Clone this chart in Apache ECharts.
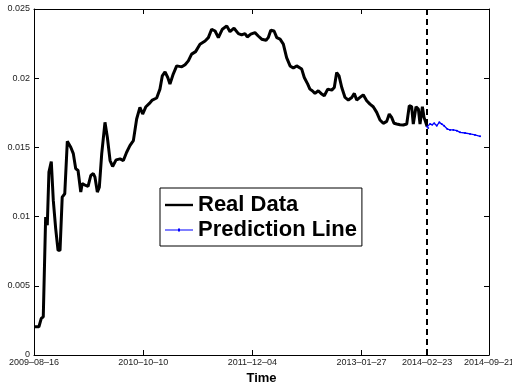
<!DOCTYPE html>
<html>
<head>
<meta charset="utf-8">
<title>b over time</title>
<script src="https://cdn.jsdelivr.net/npm/echarts@6/dist/echarts.min.js"></script>
<style>
  html, body { margin: 0; padding: 0; background: #fff; }
  #chart { width: 512px; height: 391px; }
</style>
</head>
<body>
<div id="chart"></div>
<script>
// Week index (from 2009-08-16) and observed value of b
const realWeek = [0,2.7,4.0,5.1,6.4,7.3,8.2,9.5,10.6,11.9,
  13.2,14.3,15.5,16.9,18.3,20.2,21.6,22.9,24.2,25.7,
  26.5,28.4,29.7,31.2,32.6,33.5,34.8,35.9,37.2,39.0,
  40.3,41.8,43.2,45.1,47.3,49.1,50.9,52.7,54.6,56.4,
  58.2,59.7,61.5,63.4,65.0,67.4,69.2,70.5,72.0,73.5,
  74.7,76.5,78.4,81.2,83.0,84.8,86.6,88.8,91.2,94.0,
  95.8,97.6,99.5,101.3,103.5,105.9,107.7,109.9,112.3,114.1,
  115.9,117.2,119.1,121.4,123.2,125.1,127.5,128.7,130.1,131.9,
  133.4,135.2,137.0,138.8,140.7,142.5,144.3,147.1,148.5,150.4,
  151.6,152.9,154.4,156.2,157.7,159.5,161.4,163.6,165.0,166.3,
  167.6,169.1,170.9,172.7,174.6,176.0,177.3,179.1,180.9,182.8,
  184.6,186.4,188.3,190.1,191.9,193.8,195.2,196.5,197.8,199.3,
  201.1,202.9,204.8,206.2,207.5,208.4,209.9,211.2,212.1,213.4,
  214.3,216];
const realValue = [0.00204,0.00204,0.00264,0.00276,0.00996,0.00937,0.01321,0.01398,0.01117,0.00915,
  0.00756,0.00756,0.01141,0.01165,0.01544,0.01501,0.01455,0.01347,0.01333,0.01177,
  0.01239,0.01225,0.01218,0.01297,0.01311,0.01285,0.01177,0.01213,0.01453,0.01681,
  0.01573,0.01405,0.01362,0.0141,0.01417,0.01405,0.01465,0.01513,0.01549,0.01705,
  0.01789,0.01741,0.01794,0.01818,0.01842,0.01857,0.01921,0.02017,0.02046,0.02005,
  0.01957,0.0203,0.02089,0.02082,0.02097,0.02125,0.02174,0.02192,0.02246,0.02269,
  0.02293,0.02354,0.02341,0.02293,0.02354,0.02378,0.02336,0.02361,0.02322,0.02313,
  0.02322,0.02298,0.02318,0.02329,0.02305,0.02282,0.02274,0.02293,0.02347,0.02341,
  0.02293,0.02282,0.02246,0.02149,0.02089,0.02073,0.02089,0.02066,0.02005,0.01957,
  0.01921,0.01909,0.0189,0.01909,0.0189,0.01873,0.01921,0.01914,0.01933,0.02041,
  0.02017,0.01933,0.01861,0.01842,0.01861,0.0189,0.01842,0.01861,0.0188,0.01837,
  0.01813,0.01794,0.01753,0.01698,0.01674,0.01688,0.01741,0.01717,0.01674,0.01669,
  0.01664,0.01662,0.01669,0.01801,0.01794,0.01669,0.01794,0.01777,0.01669,0.01794,
  0.01717,0.0165];

// Forecast continuing from the last observation
const predWeek = [216,216.6,217.6,218.8,219.9,221.3,222.7,224.0,225.3,227.1,
  228.6,230.4,232.3,234.1,236.8,239.6,242.3,245.1];
const predValue = [0.0165,0.0164,0.01669,0.01664,0.01674,0.01657,0.01681,0.01669,0.01657,0.01633,
  0.01626,0.01626,0.01621,0.01609,0.01604,0.01597,0.0159,0.0158];

// Date ticks on the time axis
const tickWeeks = [0, 60, 120, 180, 216, 250];
const tickLabels = ['2009–08–16', '2010–10–10', '2011–12–04', '2013–01–27', '2014–02–23', '2014–09–21'];
const forecastStart = 216;

const FONT = '"Liberation Sans", Arial, Helvetica, sans-serif';
const zip = (xs, ys) => xs.map((x, i) => [x, ys[i]]);

const chart = echarts.init(document.getElementById('chart'), null, { renderer: 'canvas' });

const axisLine = { show: true, onZero: false, lineStyle: { color: '#000', width: 1 } };
const xBase = {
  type: 'value', min: 0, max: 250,
  axisLine: axisLine,
  splitLine: { show: false },
  axisTick: { show: true, inside: true, length: 5, customValues: tickWeeks, lineStyle: { color: '#000' } }
};
const yBase = {
  type: 'value', min: 0, max: 0.025, interval: 0.005,
  axisLine: axisLine,
  splitLine: { show: false },
  axisTick: { show: true, inside: true, length: 5, lineStyle: { color: '#000' } }
};

chart.setOption({
  animation: false,
  backgroundColor: '#fff',
  grid: { left: 34, right: 23, top: 9, bottom: 36, containLabel: false, outerBoundsMode: 'none' },
  xAxis: [
    Object.assign({}, xBase, {
      position: 'bottom',
      name: 'Time', nameLocation: 'middle', nameGap: 14,
      nameTextStyle: { fontFamily: FONT, fontSize: 13, fontWeight: 'bold', color: '#000' },
      axisLabel: {
        customValues: tickWeeks, margin: 3,
        fontFamily: FONT, fontSize: 9, color: '#222',
        formatter: v => tickLabels[tickWeeks.indexOf(v)] || ''
      }
    }),
    Object.assign({}, xBase, { position: 'top', axisLabel: { show: false } })
  ],
  yAxis: [
    Object.assign({}, yBase, {
      position: 'left',
      name: 'b', nameLocation: 'middle', nameGap: 17, nameRotate: 90,
      nameTextStyle: { fontFamily: FONT, fontSize: 13, fontWeight: 'bold', color: '#000' },
      axisLabel: { margin: 4, fontFamily: FONT, fontSize: 9, color: '#222' }
    }),
    Object.assign({}, yBase, { position: 'right', axisLabel: { show: false } })
  ],
  legend: {
    orient: 'vertical',
    left: 160, top: 188,
    padding: [6, 5, 5, 5],
    itemGap: 3,
    itemWidth: 28, itemHeight: 14,
    backgroundColor: '#fff',
    borderColor: '#000', borderWidth: 1, borderRadius: 0,
    textStyle: { fontFamily: FONT, fontSize: 22, fontWeight: 'bold', color: '#000' },
    data: [
      { name: 'Real Data', icon: 'path://M0,0H28V2.4H0Z' },
      { name: 'Prediction Line', icon: 'path://M0,1H28V2H0Z M13,0H15V3H13Z' }
    ]
  },
  series: [
    {
      name: 'Real Data', type: 'line',
      data: zip(realWeek, realValue),
      symbol: 'none', showSymbol: false,
      lineStyle: { color: '#000', width: 3 },
      itemStyle: { color: '#000' },
      z: 3,
      markLine: {
        silent: true, symbol: 'none', label: { show: false },
        lineStyle: { color: '#000', width: 2, type: [6, 4] },
        data: [{ xAxis: forecastStart }]
      }
    },
    {
      name: 'Prediction Line', type: 'line',
      data: zip(predWeek, predValue),
      symbol: 'circle', symbolSize: 2, showSymbol: true,
      lineStyle: { color: '#0000ff', width: 1.3 },
      itemStyle: { color: '#0000ff' },
      z: 4
    }
  ]
});
</script>
</body>
</html>
